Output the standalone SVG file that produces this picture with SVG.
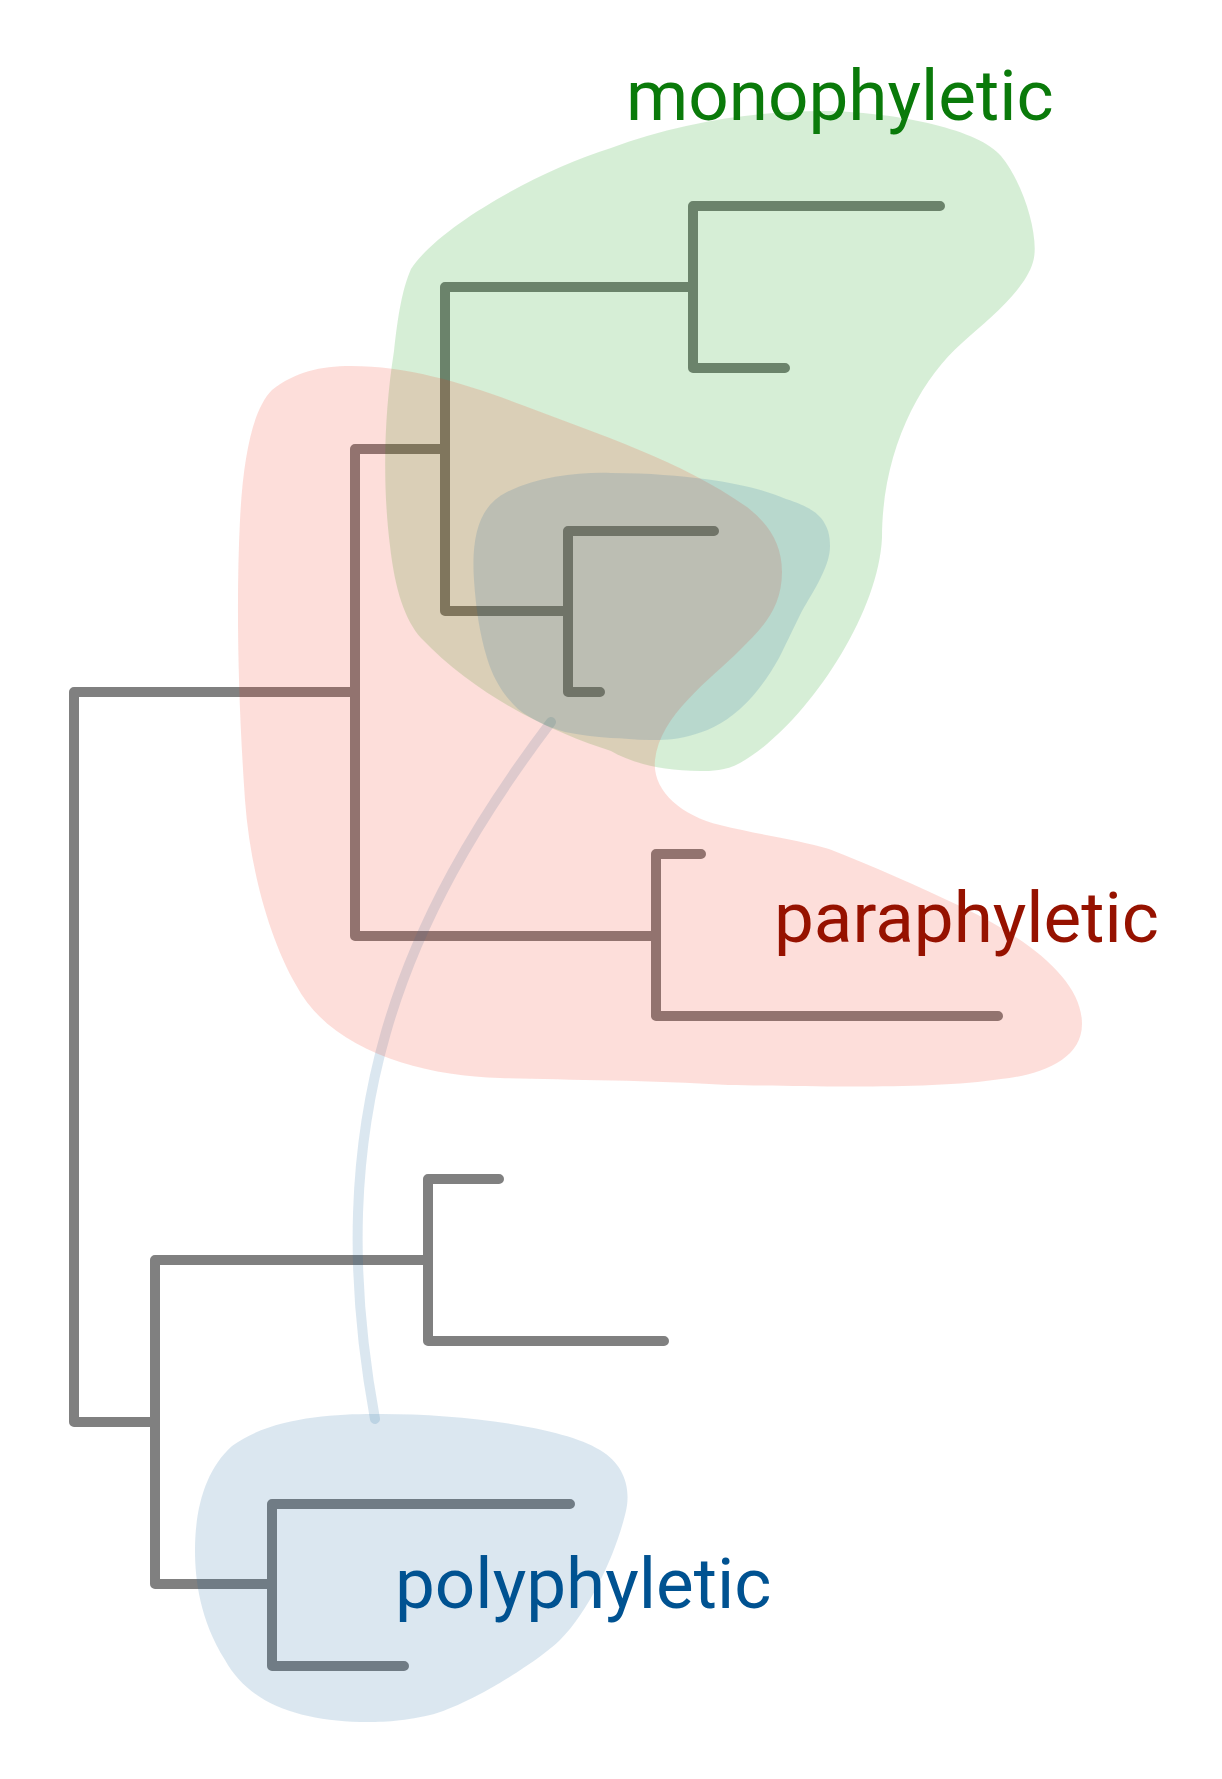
<svg xmlns="http://www.w3.org/2000/svg" width="1222" height="1779" viewBox="0 0 1222 1779">
<style>
.br{fill:none;stroke:#808080;stroke-width:10;stroke-linecap:round;stroke-linejoin:round}
.blob{stroke:none;fill-opacity:0.16}
.lbl{font-family:Roboto,"Liberation Sans",Arial,sans-serif;font-size:71px}
</style>
<rect width="1222" height="1779" fill="#ffffff"/>
<g id="connectors">
<path class="br" d="M355,692 H74 V1422 H155"/>
<path class="br" d="M445,449 H355 V936 H656"/>
<path class="br" d="M701,854 H656 V1016 H998"/>
<path class="br" d="M693,287 H445 V611 H568"/>
<path class="br" d="M940,206 H693 V368 H785"/>
<path class="br" d="M714,531 H568 V692 H600"/>
<path class="br" d="M428,1260 H155 V1584 H272"/>
<path class="br" d="M499,1179 H428 V1341 H664"/>
<path class="br" d="M570,1504 H272 V1666 H404"/>
<path fill="none" stroke="rgb(30,105,161)" stroke-opacity="0.16" stroke-width="10" stroke-linecap="round" d="M551,722 C400,922 320,1119 375,1419"/>
</g>
<g id="monophyletic">
<path class="blob" fill="rgb(0,149,0)" d="M411,269 C440,225 540,170 611,148 C680,122 760,110 830,111 C900,113 980,130 1001,156 C1025,185 1040,240 1033,262 C1025,290 990,318 962,343 C920,380 882,450 882,538 C878,620 800,730 740,763 C725,771 712,771 700,771 C660,771 630,762 611,751 C560,735 480,700 421,638 C405,620 395,590 390,546 C383,490 383,420 394,351 C398,315 402,290 411,269 Z"/>
<text class="lbl" x="626" y="120" fill="#0a7a0a">monophyletic</text>
</g>
<g id="paraphyletic">
<path class="blob" fill="rgb(242,49,24)" d="M272,390 C295,372 320,366 351,366 C410,366 470,385 522,405 C600,435 680,460 747,507 C770,525 782,545 782,572 C782,610 760,630 740,650 C710,680 660,715 655,760 C652,790 680,815 720,825 C760,835 800,840 829,849 C870,865 920,887 962,907 C1030,940 1082,980 1082,1024 C1082,1060 1040,1075 1001,1079 C930,1090 800,1086 728,1085 C650,1080 560,1080 500,1078 C420,1076 330,1050 296,985 C270,940 250,870 245,800 C238,700 236,600 240,520 C243,460 252,410 272,390 Z"/>
<text class="lbl" x="774" y="942" fill="#961200">paraphyletic</text>
</g>
<g id="polyphyletic">
<path class="blob" fill="rgb(30,105,161)" d="M474,580 C471,535 480,505 507,492 C540,476 580,472 611,473 C650,473 680,476 705,479 C740,484 765,490 786,499 C805,505 815,511 821,518 C828,527 830,535 830,546 C830,555 827,565 821,577 C815,590 808,600 802,611 C795,625 788,640 779,658 C765,683 752,698 740,709 C722,725 705,732 689,736 C675,740 662,740 650,740 C635,740 622,738 611,738 C595,737 580,735 565,732 C548,727 532,720 518,709 C503,695 493,678 487,658 C480,635 476,610 474,580 Z"/>
<path class="blob" fill="rgb(30,105,161)" d="M373,1414 C450,1413 560,1425 600,1450 C625,1465 632,1490 625,1515 C615,1555 590,1610 560,1640 C540,1660 470,1705 430,1715 C400,1722 380,1722 360,1722 C300,1720 250,1705 225,1660 C200,1620 195,1580 195,1550 C195,1510 205,1470 232,1446 C270,1418 330,1414 373,1414 Z"/>
<text class="lbl" x="395" y="1608" fill="#005291">polyphyletic</text>
</g>
</svg>
